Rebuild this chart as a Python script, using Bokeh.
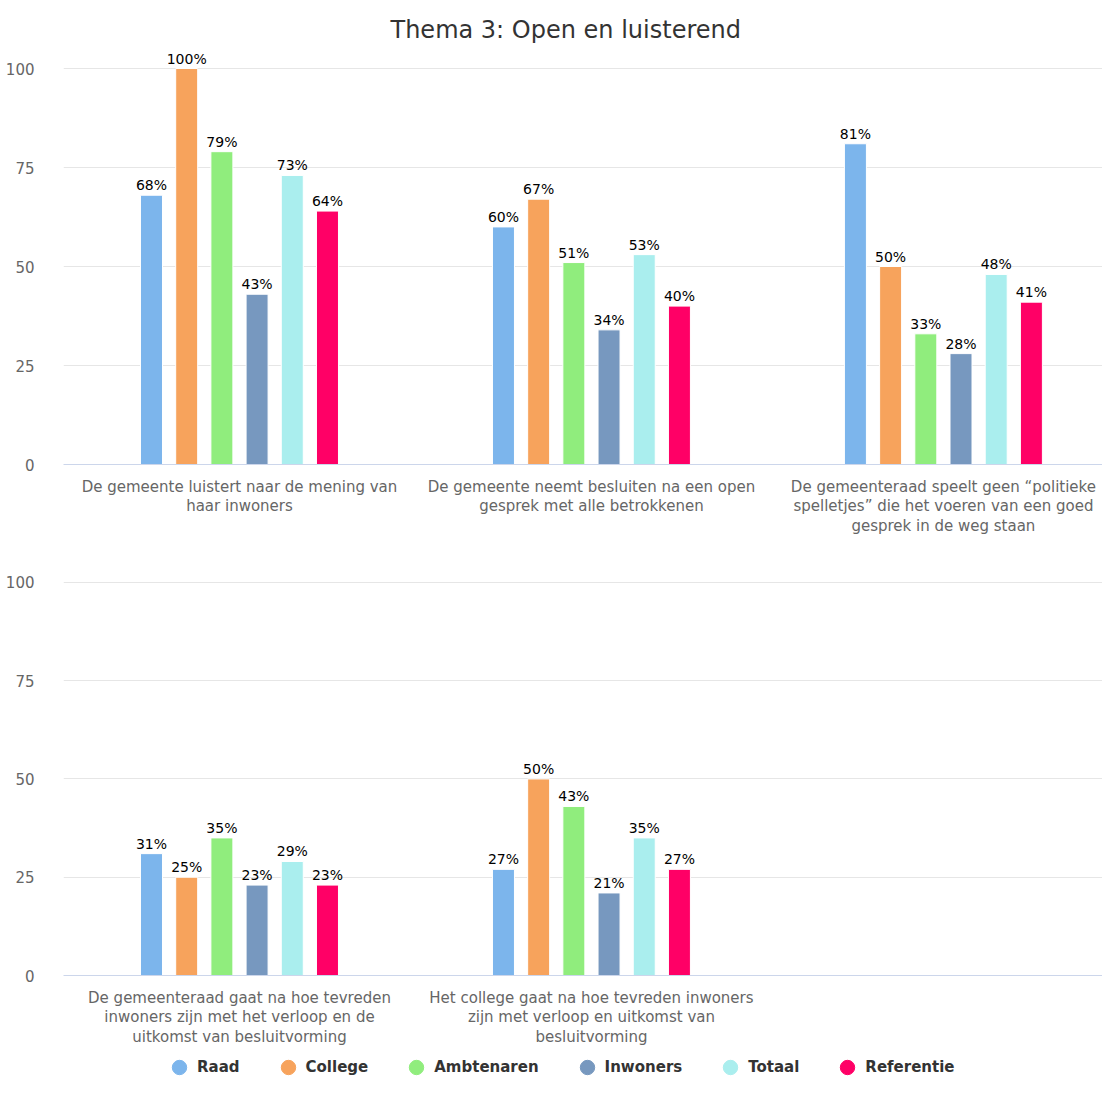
from bokeh.plotting import figure
from bokeh.models import Range1d, FixedTicker, Legend, LegendItem, ColumnDataSource
from bokeh.layouts import column
from bokeh.core.properties import value
from bokeh.embed import file_html
from bokeh.resources import INLINE

title = "Thema 3: Open en luisterend"
series = ["Raad", "College", "Ambtenaren", "Inwoners", "Totaal", "Referentie"]
colors = ["#7cb5ec", "#f7a35c", "#90ed7d", "#7798bf", "#aaeeee", "#ff0066"]

top_categories = [
    "De gemeente luistert naar de mening van\nhaar inwoners",
    "De gemeente neemt besluiten na een open\ngesprek met alle betrokkenen",
    "De gemeenteraad speelt geen \u201cpolitieke\nspelletjes\u201d die het voeren van een goed\ngesprek in de weg staan",
]
top_values = {
    "Raad":       [68, 60, 81],
    "College":    [100, 67, 50],
    "Ambtenaren": [79, 51, 33],
    "Inwoners":   [43, 34, 28],
    "Totaal":     [73, 53, 48],
    "Referentie": [64, 40, 41],
}

bottom_categories = [
    "De gemeenteraad gaat na hoe tevreden\ninwoners zijn met het verloop en de\nuitkomst van besluitvorming",
    "Het college gaat na hoe tevreden inwoners\nzijn met verloop en uitkomst van\nbesluitvorming",
]
bottom_values = {
    "Raad":       [31, 27],
    "College":    [25, 50],
    "Ambtenaren": [35, 43],
    "Inwoners":   [23, 21],
    "Totaal":     [29, 35],
    "Referentie": [23, 27],
}

y_ticks = [0, 25, 50, 75, 100]

FONT = "DejaVu Sans"
W = 1102
OFFSET = 0.1
BAR_W = 0.0625


def make_panel(categories, values, height, top_border, bottom_border, with_title=False):
    p = figure(width=W, height=height, output_backend="svg", toolbar_location=None,
               x_range=Range1d(-0.5, 2.452), y_range=Range1d(0, 104.55),
               min_border_left=63, min_border_right=0,
               min_border_top=top_border, min_border_bottom=bottom_border)
    p.outline_line_color = None
    p.background_fill_color = "white"
    p.border_fill_color = "white"
    if with_title:
        p.title.text = title
        p.title.align = "left"
        p.title.offset = 327
        p.title.text_font = FONT
        p.title.text_font_size = "24px"
        p.title.text_font_style = "normal"
        p.title.text_color = "#333333"
        p.title.standoff = 14

    for i, s in enumerate(series):
        vals = values[s]
        xs = [k + (i - 2.5) * OFFSET for k in range(len(vals))]
        src = ColumnDataSource(dict(x=xs, top=vals, lab=[f"{v}%" for v in vals]))
        p.vbar(x="x", top="top", width=BAR_W, bottom=0, source=src,
               fill_color=colors[i], line_color="white", line_width=1)
        p.text(x="x", y="top", text="lab", source=src, text_align="center",
               text_baseline="bottom", y_offset=-2, text_font=value(FONT),
               text_font_size="14px", text_color="#000000")

    p.yaxis.ticker = FixedTicker(ticks=y_ticks)
    p.yaxis.axis_line_color = None
    p.yaxis.major_tick_line_color = None
    p.yaxis.minor_tick_line_color = None
    p.yaxis.major_label_standoff = 23
    p.yaxis.major_label_text_font = FONT
    p.yaxis.major_label_text_font_size = "15px"
    p.yaxis.major_label_text_color = "#666666"

    p.xaxis.ticker = FixedTicker(ticks=list(range(len(categories))))
    p.xaxis.major_label_overrides = {k: c for k, c in enumerate(categories)}
    p.xaxis.axis_line_color = "#ccd6eb"
    p.xaxis.major_tick_line_color = None
    p.xaxis.minor_tick_line_color = None
    p.xaxis.major_label_standoff = 7
    p.xaxis.major_label_text_font = FONT
    p.xaxis.major_label_text_font_size = "15px"
    p.xaxis.major_label_text_color = "#666666"
    p.xaxis.major_label_text_line_height = 1.1

    p.xgrid.grid_line_color = None
    p.ygrid.ticker = FixedTicker(ticks=y_ticks)
    p.ygrid.grid_line_color = "#e6e6e6"
    return p


p1 = make_panel(top_categories, top_values, 550, 50, 86, with_title=True)
p2 = make_panel(bottom_categories, bottom_values, 499, 14, 72)

# legend strip
p3 = figure(width=W, height=36, output_backend="svg", toolbar_location=None,
            x_range=Range1d(0, 1), y_range=Range1d(0, 1),
            x_axis_location=None, y_axis_location=None, min_border=0)
p3.outline_line_color = None
p3.xgrid.grid_line_color = None
p3.ygrid.grid_line_color = None

items = []
for i, s in enumerate(series):
    # one point outside the visible range so that the legend can draw its marker
    r = p3.scatter(x=[-5], y=[-5], size=16, marker="circle",
                   fill_color=colors[i], line_color=colors[i])
    items.append(LegendItem(label=s, renderers=[r]))
legend = Legend(items=items, orientation="horizontal", location=(98, 0),
                glyph_width=36, glyph_height=36, label_standoff=0, spacing=30,
                padding=0, margin=0, border_line_color=None, background_fill_alpha=0,
                label_text_font=FONT, label_text_font_size="15px",
                label_text_font_style="bold", label_text_color="#333333")
p3.add_layout(legend, "center")

layout = column(p1, p2, p3, spacing=0)
open("out.html", "w").write(file_html(layout, INLINE))
